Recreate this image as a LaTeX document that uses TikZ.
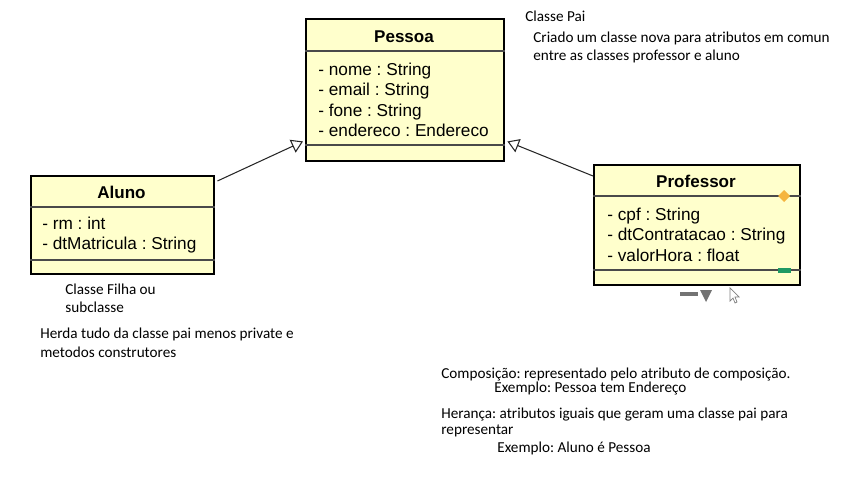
\documentclass[tikz,border=0pt]{standalone}
\usepackage{fontspec}
\setmainfont{Carlito}
\newfontfamily\umlfont{Liberation Sans}
\usetikzlibrary{arrows.meta,calc}
\frenchspacing
\definecolor{umlfill}{HTML}{FFFFCC}
\definecolor{umlline}{HTML}{4A4A4A}
\definecolor{compcolor}{HTML}{F5B53F}
\definecolor{opcolor}{HTML}{1F9964}
\tikzset{
  classe/.style={draw=black, line width=1.4pt, fill=umlfill, anchor=north west, inner sep=0pt},
  divisor/.style={draw=umlline, line width=0.6pt},
  titulo/.style={font=\umlfont\fontsize{9.7}{11}\selectfont\bfseries, anchor=base, inner sep=0pt},
  atributo/.style={font=\umlfont\fontsize{9.8}{11}\selectfont, anchor=base west, inner sep=0pt},
  nota/.style={font=\fontsize{8.65}{10}\selectfont, anchor=base west, inner sep=0pt},
  heranca/.style={draw=black!85, line width=0.6pt, -{Triangle[open, width=8pt, length=6.5pt]}},
}
\begin{document}
\begin{tikzpicture}[x=0.02cm, y=-0.02cm]
\useasboundingbox (0,0) rectangle (847,480);

% Classe pai
\node[classe, minimum width=3.96cm, minimum height=2.84cm] (pessoa) at (305,18) {};
\draw[divisor] (pessoa.west |- 0,51) -- (pessoa.east |- 0,51);
\draw[divisor] (pessoa.west |- 0,145) -- (pessoa.east |- 0,145);
\node[titulo] (pessoaT) at (404,42) {Pessoa};
\node[atributo] (nome) at (318,75) {- nome : String};
\node[atributo] (email) at (318,95.5) {- email : String};
\node[atributo] (fone) at (318,116) {- fone : String};
\node[atributo] (endereco) at (318,136.5) {- endereco : Endereco};

% Classe filha Aluno
\node[classe, minimum width=3.66cm, minimum height=1.96cm] (aluno) at (30,175) {};
\draw[divisor] (aluno.west |- 0,207) -- (aluno.east |- 0,207);
\draw[divisor] (aluno.west |- 0,260) -- (aluno.east |- 0,260);
\node[titulo] (alunoT) at (121.5,198) {Aluno};
\node[atributo] (rm) at (42,229) {- rm : int};
\node[atributo] (dtMatricula) at (42,249.5) {- dtMatricula : String};

% Classe filha Professor
\node[classe, minimum width=4.12cm, minimum height=2.40cm] (professor) at (593,164) {};
\draw[divisor] (professor.west |- 0,196) -- (professor.east |- 0,196);
\draw[divisor] (professor.west |- 0,270) -- (professor.east |- 0,270);
\node[titulo] (professorT) at (696,187) {Professor};
\node[atributo] (cpf) at (607,220) {- cpf : String};
\node[atributo] (dtContratacao) at (607,240.5) {- dtContratacao : String};
\node[atributo] (valorHora) at (607,261) {- valorHora : float};
\fill[compcolor] (784,190) -- (790,196) -- (784,202) -- (778,196) -- cycle;
\fill[opcolor] (778,268) rectangle (791,273);

% heranca
\draw[heranca] ($(aluno.north east)+(2,6)$) -- ($(pessoa.south west)+(-2,-21)$);
\draw[heranca] ($(professor.north west)+(0,12)$) -- ($(pessoa.south east)+(2,-21)$);

% restos da ferramenta
\draw[gray!90!black, line width=1.8pt] (680,294) -- (698,294);
\fill[gray!90!black] (700,290) -- (712,290) -- (706,302) -- cycle;
\draw[gray, fill=white, line width=0.4pt] (730,288) -- (730,301) -- (733,298) -- (735,303) -- (737,302) -- (735,297) -- (739,297) -- cycle;

% notas
\node[nota] (pai) at (525,21) {Classe Pai};
\node[nota] (pai1) at (533,42) {Criado um classe nova para atributos em comun};
\node[nota] (pai2) at (533,60) {entre as classes professor e aluno};
\node[nota] (filha1) at (65,294) {Classe Filha ou};
\node[nota] (filha2) at (65,312) {subclasse};
\node[nota] (herda1) at (40,338) {Herda tudo da classe pai menos private e};
\node[nota] (herda2) at (40,357) {metodos construtores};
\node[nota] (comp1) at (441,378) {Composição: representado pelo atributo de composição.};
\node[nota] (comp2) at (494,392) {Exemplo: Pessoa tem Endereço};
\node[nota] (her1) at (441,418) {Herança: atributos iguais que geram uma classe pai para};
\node[nota] (her2) at (441,434) {representar};
\node[nota] (her3) at (497,452) {Exemplo: Aluno é Pessoa};
\end{tikzpicture}
\end{document}
